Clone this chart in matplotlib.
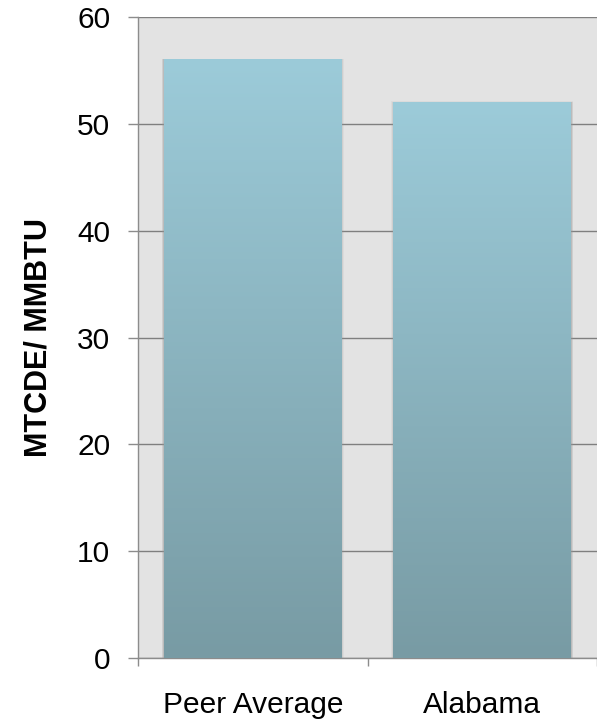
import matplotlib
matplotlib.use("Agg")
from matplotlib import pyplot as plt
from matplotlib.colors import LinearSegmentedColormap
import numpy as np

categories = ["Peer Average", "Alabama"]
values = [56, 52]
y_ticks = [0, 10, 20, 30, 40, 50, 60]

plt.rcParams['font.family'] = ['Liberation Sans', 'DejaVu Sans']

fig = plt.figure(figsize=(5.97, 7.21), dpi=100)
ax = fig.add_axes([0.2312, 0.0874, 0.7688, 0.889])
ax.set_facecolor('#e3e3e3')

# vertical gradient, dark at the base, light at the top
cmap = LinearSegmentedColormap.from_list('bar', ['#789ba4', '#9ccbd9'])
grad = np.linspace(0, 1, 256).reshape(-1, 1)
width = 0.775
for i, v in enumerate(values):
    x0, x1 = i - width / 2, i + width / 2
    # soft shadow behind each bar
    for k, a in enumerate([0.35, 0.2, 0.1]):
        d = 0.003 * (k + 1)
        ax.add_patch(plt.Rectangle((x0 - d, 0), width + 2 * d, v + d * 12,
                                   facecolor='#9a9a9a', edgecolor='none',
                                   zorder=2, alpha=a))
    ax.imshow(grad, cmap=cmap, origin='lower', aspect='auto',
              extent=(x0, x1, 0, v), zorder=3, interpolation='bicubic')

ax.set_xlim(-0.5, 1.5)
ax.set_ylim(0, 60)

ax.set_yticks(y_ticks)
ax.grid(axis='y', color='#7f7f7f', linewidth=1.0, zorder=1)
ax.set_axisbelow(True)

ax.set_xticks([-0.5, 0.5, 1.5])
ax.set_xticklabels([])
ax.set_xticks([0, 1], minor=True)
ax.set_xticklabels(categories, minor=True)

ax.tick_params(axis='y', direction='out', length=7, width=1, color='#8c8c8c',
               labelsize=21.5, pad=13)
ax.tick_params(axis='x', which='major', direction='out', length=6, width=1, color='#8c8c8c')
ax.tick_params(axis='x', which='minor', length=0, labelsize=21.5, pad=24)

for side in ['top', 'right']:
    ax.spines[side].set_visible(False)
for side in ['left', 'bottom']:
    ax.spines[side].set_color('#8c8c8c')
    ax.spines[side].set_linewidth(1)

ax.set_ylabel('MTCDE/ MMBTU', fontsize=22, fontweight='bold', labelpad=17)

fig.savefig('out.png', dpi=100)
